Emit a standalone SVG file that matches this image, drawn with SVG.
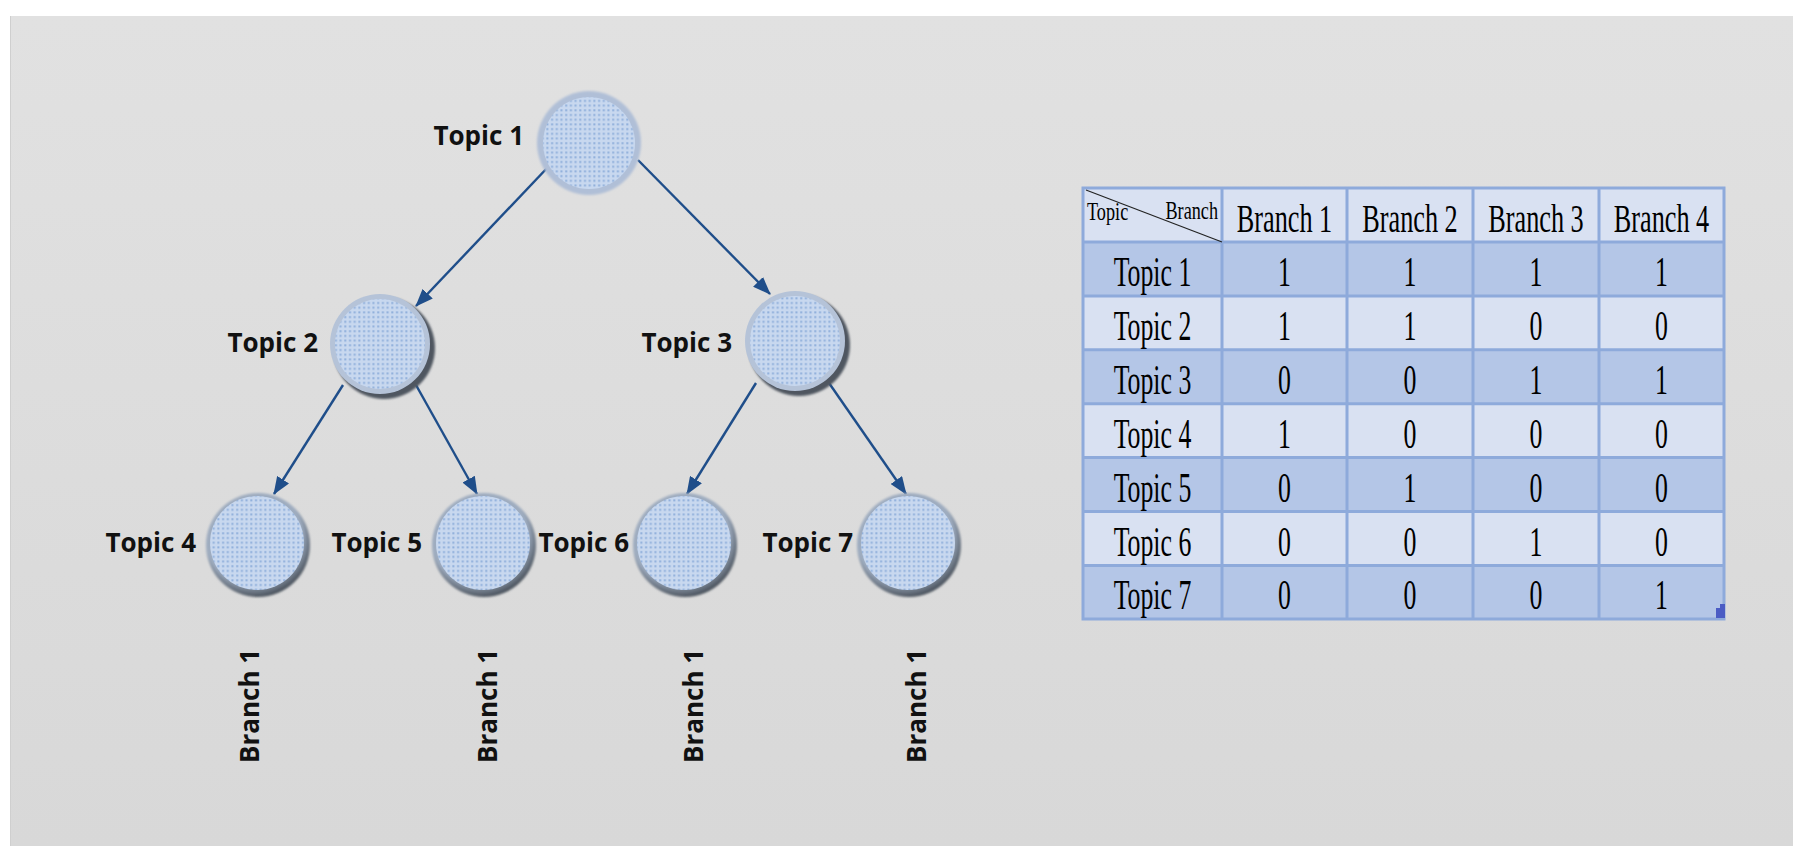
<svg xmlns="http://www.w3.org/2000/svg" width="1793" height="846" viewBox="0 0 1793 846">
<defs>
<linearGradient id="bg" x1="0" y1="0" x2="0" y2="1">
<stop offset="0" stop-color="#e1e1e1"/>
<stop offset="1" stop-color="#d8d8d8"/>
</linearGradient>
<pattern id="dots" width="4.7" height="4.7" patternUnits="userSpaceOnUse">
<rect width="4.7" height="4.7" fill="#c8d8ef"/>
<rect x="1.2" y="1.2" width="2" height="2" fill="#8fafdb"/>
</pattern>
<radialGradient id="rimDark" cx="0.45" cy="0.4" r="0.6">
<stop offset="0.78" stop-color="#9eacbf"/>
<stop offset="1" stop-color="#4c545e"/>
</radialGradient>
<filter id="soft" x="-20%" y="-20%" width="140%" height="140%">
<feGaussianBlur stdDeviation="1.2"/>
</filter>
<marker id="arr" viewBox="0 0 18 14" refX="17" refY="7" markerWidth="18" markerHeight="14" markerUnits="userSpaceOnUse" orient="auto">
<path d="M0,0 L18,7 L0,14 Z" fill="#1f4e8a"/>
</marker>
</defs>
<style>
.lbl{font-family:"Open Sans","Liberation Sans",sans-serif;font-weight:bold;font-size:26px;fill:#111}
.edge{stroke:#1f4e8a;stroke-width:2.4;fill:none;marker-end:url(#arr)}
.inner{fill:url(#dots)}
.ring1{fill:#b0bfd7}
.ring2{fill:#b5c3d8}
.shadow{fill:#4f5761;filter:url(#soft)}
.rim{fill:url(#rimDark);filter:url(#soft)}
.tcell{font-family:"Liberation Serif",serif;fill:#000;text-anchor:middle}
.grid{stroke:#8eaadb;stroke-width:3;fill:none}
</style>

<rect x="0" y="0" width="1793" height="846" fill="#ffffff"/>
<rect x="10" y="16" width="1783" height="830" fill="url(#bg)"/>
<line x1="10.5" y1="16" x2="10.5" y2="846" stroke="#cfcfcf" stroke-width="1"/>

<g id="connectors">
<line class="edge" x1="549" y1="166" x2="416" y2="306"/>
<line class="edge" x1="638" y1="160" x2="770" y2="294"/>
<line class="edge" x1="343" y1="385" x2="274" y2="494"/>
<line class="edge" x1="416" y1="385" x2="477" y2="494"/>
<line class="edge" x1="756" y1="383" x2="687" y2="494"/>
<line class="edge" x1="829" y1="383" x2="906" y2="494"/>
</g>

<g id="topic1">
<circle class="ring1" cx="589" cy="143" r="52" filter="url(#soft)"/>
<circle class="inner" cx="589" cy="143" r="46"/>
<text class="lbl" x="524" y="145" text-anchor="end">Topic 1</text>
</g>
<g id="topic2">
<circle class="shadow" cx="384" cy="348" r="51"/>
<circle class="ring2" cx="380" cy="344" r="50"/>
<circle class="inner" cx="380" cy="344" r="45"/>
<text class="lbl" x="318" y="352" text-anchor="end">Topic 2</text>
</g>
<g id="topic3">
<circle class="shadow" cx="799" cy="345" r="51"/>
<circle class="ring2" cx="795" cy="341" r="50"/>
<circle class="inner" cx="795" cy="341" r="45"/>
<text class="lbl" x="732" y="352" text-anchor="end">Topic 3</text>
</g>
<g id="topic4">
<circle class="rim" cx="258" cy="545" r="52"/>
<circle class="inner" cx="257" cy="543" r="47"/>
<text class="lbl" x="196" y="552" text-anchor="end">Topic 4</text>
</g>
<g id="topic5">
<circle class="rim" cx="484" cy="545" r="52"/>
<circle class="inner" cx="483" cy="543" r="47"/>
<text class="lbl" x="422" y="552" text-anchor="end">Topic 5</text>
</g>
<g id="topic6">
<circle class="rim" cx="685" cy="545" r="52"/>
<circle class="inner" cx="684" cy="543" r="47"/>
<text class="lbl" x="629" y="552" text-anchor="end">Topic 6</text>
</g>
<g id="topic7">
<circle class="rim" cx="909" cy="545" r="52"/>
<circle class="inner" cx="908" cy="543" r="47"/>
<text class="lbl" x="853" y="552" text-anchor="end">Topic 7</text>
</g>

<g id="branch-labels">
<text class="lbl" transform="translate(259,763) rotate(-90)">Branch 1</text>
<text class="lbl" transform="translate(497,763) rotate(-90)">Branch 1</text>
<text class="lbl" transform="translate(703,763) rotate(-90)">Branch 1</text>
<text class="lbl" transform="translate(926,763) rotate(-90)">Branch 1</text>
</g>

<g id="table">
<rect x="1083" y="188" width="641" height="54" fill="#d9e1f2"/>
<rect x="1083" y="242" width="641" height="53.9" fill="#b4c6e7"/>
<rect x="1083" y="295.9" width="641" height="53.9" fill="#d9e1f2"/>
<rect x="1083" y="349.8" width="641" height="53.9" fill="#b4c6e7"/>
<rect x="1083" y="403.7" width="641" height="53.9" fill="#d9e1f2"/>
<rect x="1083" y="457.6" width="641" height="53.9" fill="#b4c6e7"/>
<rect x="1083" y="511.5" width="641" height="53.9" fill="#d9e1f2"/>
<rect x="1083" y="565.4" width="641" height="53.6" fill="#b4c6e7"/>
<path class="grid" d="M1083,188 H1724 V619 H1083 Z M1083,242 H1724 M1083,295.9 H1724 M1083,349.8 H1724 M1083,403.7 H1724 M1083,457.6 H1724 M1083,511.5 H1724 M1083,565.4 H1724 M1222,188 V619 M1347,188 V619 M1473,188 V619 M1599,188 V619"/>
<line x1="1086" y1="190" x2="1222" y2="242" stroke="#222" stroke-width="1.2"/>
<path d="M1716,608 H1720 V604 H1725 V618 H1716 Z" fill="#4b5cc4"/>
<g transform="scale(0.7,1)" class="tcell" font-size="26">
<text x="1552.9" y="220" text-anchor="start">Topic</text>
<text x="1740" y="219" text-anchor="end">Branch</text>
</g>
<g transform="scale(0.64,1)" class="tcell" font-size="41">
<text x="2007" y="232">Branch 1</text>
<text x="2203.1" y="232">Branch 2</text>
<text x="2400" y="232">Branch 3</text>
<text x="2596.1" y="232">Branch 4</text>
</g>
<g transform="scale(0.6,1)" class="tcell" font-size="43">
<text x="1920.8" y="286">Topic 1</text><text x="2140.8" y="286">1</text><text x="2350" y="286">1</text><text x="2560" y="286">1</text><text x="2769.2" y="286">1</text>
<text x="1920.8" y="340">Topic 2</text><text x="2140.8" y="340">1</text><text x="2350" y="340">1</text><text x="2560" y="340">0</text><text x="2769.2" y="340">0</text>
<text x="1920.8" y="394">Topic 3</text><text x="2140.8" y="394">0</text><text x="2350" y="394">0</text><text x="2560" y="394">1</text><text x="2769.2" y="394">1</text>
<text x="1920.8" y="448">Topic 4</text><text x="2140.8" y="448">1</text><text x="2350" y="448">0</text><text x="2560" y="448">0</text><text x="2769.2" y="448">0</text>
<text x="1920.8" y="502">Topic 5</text><text x="2140.8" y="502">0</text><text x="2350" y="502">1</text><text x="2560" y="502">0</text><text x="2769.2" y="502">0</text>
<text x="1920.8" y="556">Topic 6</text><text x="2140.8" y="556">0</text><text x="2350" y="556">0</text><text x="2560" y="556">1</text><text x="2769.2" y="556">0</text>
<text x="1920.8" y="609">Topic 7</text><text x="2140.8" y="609">0</text><text x="2350" y="609">0</text><text x="2560" y="609">0</text><text x="2769.2" y="609">1</text>
</g>
</g>
</svg>
